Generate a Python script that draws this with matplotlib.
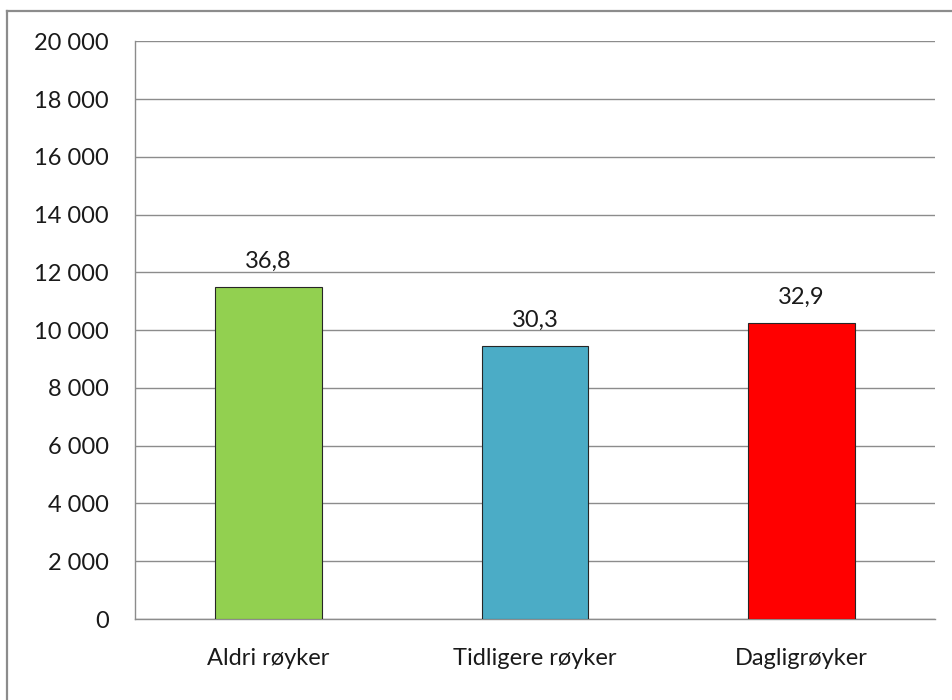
import numpy as np
import matplotlib.pyplot as plt
from matplotlib.lines import Line2D
from matplotlib.ticker import FuncFormatter

# Data
categories = ['Aldri røyker', 'Tidligere røyker', 'Dagligrøyker']
values = [11480, 9440, 10250]
bar_labels = ['36,8', '30,3', '32,9']
colors = ['#92D050', '#4BACC6', '#FF0000']
y_ticks = np.arange(0, 20001, 2000)

plt.rcParams['font.family'] = ['Lato', 'DejaVu Sans']

fig = plt.figure(figsize=(9.53, 7.0), dpi=100)
ax = fig.add_axes([135/953, 81/700, 800/953, 577.7/700])

x = np.arange(len(categories))
bars = ax.bar(x, values, width=0.4, color=colors, edgecolor='#262626',
              linewidth=0.8, zorder=3)

for b, lab in zip(bars, bar_labels):
    ax.annotate(lab, (b.get_x() + b.get_width()/2, b.get_height()),
                xytext=(0, 11), textcoords='offset points',
                ha='center', va='bottom', fontsize=17, color='#1a1a1a')

ax.set_xlim(-0.5, 2.5)
ax.set_ylim(0, 20000)
ax.set_yticks(y_ticks)
ax.yaxis.set_major_formatter(FuncFormatter(lambda v, p: f'{int(v):,}'.replace(',', ' ')))
ax.set_xticks(x)
ax.set_xticklabels(categories)

ax.tick_params(axis='y', length=0, pad=19, labelsize=17, labelcolor='#1a1a1a')
ax.tick_params(axis='x', length=0, pad=21, labelsize=17, labelcolor='#1a1a1a')

ax.grid(axis='y', color='#8c8c8c', linewidth=1.0, zorder=0)
for s in ['top', 'right']:
    ax.spines[s].set_visible(False)
for s in ['left', 'bottom']:
    ax.spines[s].set_color('#8c8c8c')
    ax.spines[s].set_linewidth(1.0)

# outer chart frame (partly cropped)
fig.add_artist(Line2D([7/953, 7/953], [0, 1 - 11/700], transform=fig.transFigure,
                      color='#8c8c8c', linewidth=1.6))
fig.add_artist(Line2D([7/953, 1], [1 - 11/700, 1 - 11/700], transform=fig.transFigure,
                      color='#8c8c8c', linewidth=1.6))

fig.savefig('out.png', dpi=100)
